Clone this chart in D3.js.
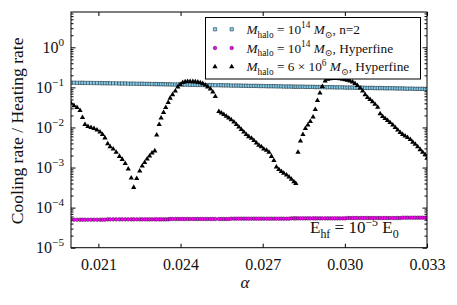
<!DOCTYPE html>
<html>
<head>
<meta charset="utf-8">
<script src="https://cdn.jsdelivr.net/npm/d3@7"></script>
<style>
body { margin: 0; background: #fff; }
svg { display: block; }
text { font-family: "Liberation Serif", "DejaVu Serif", serif; fill: #111; }
</style>
</head>
<body>
<svg id="chart" width="457" height="305"></svg>
<script>
// fine structure constant samples (shared by all three series)
var alpha = [
  0.02000,0.02011,0.02022,0.02033,0.02042,0.02051,0.02062,0.02073,0.02084,0.02095,
  0.02106,0.02115,0.02124,0.02134,0.02143,0.02154,0.02165,0.02177,0.02187,0.02198,
  0.02209,0.02220,0.02229,0.02240,0.02251,0.02260,0.02269,0.02278,0.02287,0.02296,
  0.02306,0.02313,0.02322,0.02329,0.02338,0.02346,0.02355,0.02362,0.02371,0.02381,
  0.02390,0.02399,0.02408,0.02417,0.02426,0.02435,0.02445,0.02454,0.02463,0.02472,
  0.02481,0.02490,0.02499,0.02509,0.02518,0.02527,0.02540,0.02549,0.02558,0.02567,
  0.02576,0.02585,0.02595,0.02604,0.02613,0.02622,0.02631,0.02640,0.02649,0.02659,
  0.02668,0.02677,0.02686,0.02695,0.02704,0.02714,0.02723,0.02732,0.02741,0.02750,
  0.02759,0.02768,0.02777,0.02787,0.02796,0.02805,0.02814,0.02821,0.02829,0.02838,
  0.02847,0.02856,0.02865,0.02874,0.02884,0.02892,0.02900,0.02909,0.02918,0.02928,
  0.02937,0.02946,0.02955,0.02964,0.02973,0.02982,0.02992,0.03001,0.03010,0.03019,
  0.03028,0.03037,0.03046,0.03056,0.03065,0.03074,0.03083,0.03092,0.03101,0.03110,
  0.03120,0.03129,0.03138,0.03147,0.03156,0.03165,0.03175,0.03184,0.03193,0.03202,
  0.03211,0.03220,0.03229,0.03239,0.03248,0.03257,0.03266,0.03275,0.03284,0.03293,
  0.03300
];

// M_halo = 1e14, n=2
var ratioN2 = [
  0.131,0.131,0.130,0.130,0.130,0.129,0.129,0.129,0.128,0.128,
  0.128,0.127,0.127,0.127,0.126,0.126,0.126,0.125,0.125,0.125,
  0.124,0.124,0.124,0.123,0.123,0.123,0.122,0.122,0.122,0.121,
  0.121,0.121,0.120,0.120,0.120,0.119,0.119,0.119,0.118,0.118,
  0.118,0.118,0.117,0.117,0.117,0.116,0.116,0.116,0.115,0.115,
  0.115,0.114,0.114,0.114,0.114,0.113,0.113,0.113,0.112,0.112,
  0.112,0.111,0.111,0.111,0.111,0.110,0.110,0.110,0.109,0.109,
  0.109,0.109,0.108,0.108,0.108,0.107,0.107,0.107,0.107,0.106,
  0.106,0.106,0.105,0.105,0.105,0.105,0.104,0.104,0.104,0.104,
  0.104,0.103,0.103,0.103,0.103,0.102,0.102,0.102,0.102,0.101,
  0.101,0.101,0.101,0.100,0.100,0.100,0.100,0.099,0.099,0.099,
  0.099,0.098,0.098,0.098,0.098,0.097,0.097,0.097,0.097,0.096,
  0.096,0.096,0.096,0.095,0.095,0.095,0.095,0.094,0.094,0.094,
  0.094,0.093,0.093,0.093,0.093,0.092,0.092,0.092,0.092,0.091,
  0.091
];

// M_halo = 1e14, hyperfine
var ratioHf = [
  5.0e-5,5.0e-5,5.0e-5,5.0e-5,5.0e-5,5.0e-5,5.0e-5,5.0e-5,5.0e-5,5.0e-5,
  5.0e-5,5.0e-5,5.0e-5,5.1e-5,5.1e-5,5.1e-5,5.1e-5,5.1e-5,5.1e-5,5.1e-5,
  5.1e-5,5.1e-5,5.1e-5,5.1e-5,5.1e-5,5.1e-5,5.1e-5,5.1e-5,5.1e-5,5.1e-5,
  5.1e-5,5.1e-5,5.1e-5,5.1e-5,5.1e-5,5.1e-5,5.1e-5,5.2e-5,5.2e-5,5.2e-5,
  5.2e-5,5.2e-5,5.2e-5,5.2e-5,5.2e-5,5.2e-5,5.2e-5,5.2e-5,5.2e-5,5.2e-5,
  5.2e-5,5.2e-5,5.2e-5,5.2e-5,5.2e-5,5.2e-5,5.2e-5,5.2e-5,5.2e-5,5.2e-5,
  5.2e-5,5.3e-5,5.3e-5,5.3e-5,5.3e-5,5.3e-5,5.3e-5,5.3e-5,5.3e-5,5.3e-5,
  5.3e-5,5.3e-5,5.3e-5,5.3e-5,5.3e-5,5.3e-5,5.3e-5,5.3e-5,5.3e-5,5.3e-5,
  5.3e-5,5.3e-5,5.3e-5,5.3e-5,5.3e-5,5.4e-5,5.4e-5,5.4e-5,5.4e-5,5.4e-5,
  5.4e-5,5.4e-5,5.4e-5,5.4e-5,5.4e-5,5.4e-5,5.4e-5,5.4e-5,5.4e-5,5.4e-5,
  5.4e-5,5.4e-5,5.4e-5,5.4e-5,5.4e-5,5.4e-5,5.4e-5,5.4e-5,5.5e-5,5.5e-5,
  5.5e-5,5.5e-5,5.5e-5,5.5e-5,5.5e-5,5.5e-5,5.5e-5,5.5e-5,5.5e-5,5.5e-5,
  5.5e-5,5.5e-5,5.5e-5,5.5e-5,5.5e-5,5.5e-5,5.5e-5,5.5e-5,5.5e-5,5.5e-5,
  5.6e-5,5.6e-5,5.6e-5,5.6e-5,5.6e-5,5.6e-5,5.6e-5,5.6e-5,5.6e-5,5.6e-5,
  5.6e-5
];

// M_halo = 6e6, hyperfine
var ratioSmallHf = [
  0.040,0.035,0.0315,0.0265,0.0177,0.0119,0.0106,0.0100,0.0094,0.0086,
  0.0077,0.0067,0.0055,0.0039,0.0033,0.0029,0.0024,0.0019,0.0016,0.00126,
  0.00092,0.00055,0.00032,0.00053,0.00082,0.00109,0.00134,0.00163,0.00194,0.0023,
  0.0026,0.0065,0.0119,0.0172,0.0236,0.0315,0.042,0.054,0.066,0.081,
  0.102,0.118,0.132,0.138,0.140,0.140,0.139,0.138,0.135,0.130,
  0.124,0.115,0.103,0.091,0.077,0.059,0.025,0.023,0.021,0.019,
  0.0172,0.0155,0.0137,0.0119,0.0103,0.0089,0.0077,0.0067,0.0059,0.0054,
  0.0047,0.0041,0.0036,0.0033,0.0029,0.0027,0.0024,0.0019,0.0015,0.00103,
  0.00089,0.00080,0.00072,0.00065,0.00058,0.00051,0.00044,0.00040,0.0024,0.0046,
  0.0067,0.0094,0.0115,0.0141,0.0182,0.028,0.047,0.072,0.105,0.144,
  0.159,0.164,0.167,0.167,0.167,0.164,0.160,0.156,0.150,0.144,
  0.136,0.125,0.111,0.096,0.081,0.066,0.056,0.050,0.044,0.038,
  0.032,0.022,0.0188,0.0168,0.0149,0.0133,0.0115,0.0100,0.0086,0.0075,
  0.0067,0.0061,0.0056,0.0050,0.0043,0.0038,0.0033,0.0028,0.0024,0.0021,
  0.0017
];

var xTicks = [0.021, 0.024, 0.027, 0.030, 0.033];
var yExponents = [0, -1, -2, -3, -4, -5];

var plotL = 71, plotR = 427, plotT = 12, plotB = 247.7;

var svg = d3.select('#chart');

var x = d3.scaleLinear().domain([0.020, 0.033]).range([plotL, plotR]);
var y = d3.scaleLog().domain([1e-5, 7.6]).range([plotB, plotT]);

// minor log ticks
var minors = [];
yExponents.forEach(function(e) {
  for (var k = 2; k <= 9; k++) {
    var v = k * Math.pow(10, e);
    if (v < 7.6) minors.push(v);
  }
});
var majors = yExponents.map(function(e) { return Math.pow(10, e); });

svg.append('defs').append('clipPath').attr('id', 'plotclip')
  .append('rect').attr('x', plotL).attr('y', plotT)
  .attr('width', plotR - plotL).attr('height', plotB - plotT);

// helper for text with sub/superscripts
function richText(g, px, py, parts, size, anchor) {
  var t = g.append('text').attr('x', px).attr('y', py)
    .style('font-size', size + 'px')
    .attr('text-anchor', anchor || 'start');
  var shift = 0;
  parts.forEach(function(p) {
    var target = p.sub ? size * 0.28 : (p.sup ? -size * 0.42 : 0);
    var sp = t.append('tspan').attr('dy', target - shift).text(p.t);
    if (p.sub || p.sup) sp.style('font-size', (size * 0.7) + 'px');
    if (p.it) sp.style('font-style', 'italic');
    shift = target;
  });
  return t;
}

// annotation (drawn under the markers)
richText(svg, 310, 233, [
  {t: 'E'}, {t: 'hf', sub: true}, {t: ' = 10'}, {t: '\u22125', sup: true},
  {t: ' E'}, {t: '0', sub: true}
], 17);

// axes ticks (inward, on all sides)
function styleAxis(g) {
  g.select('.domain').remove();
  g.selectAll('line').attr('stroke', '#000').attr('stroke-width', 1);
}

svg.append('g').attr('transform', 'translate(0,' + plotB + ')')
  .call(d3.axisBottom(x).tickValues(xTicks).tickSize(-4).tickPadding(11)
    .tickFormat(d3.format('.3f')))
  .call(styleAxis)
  .selectAll('text').style('font-size', '16px').attr('fill', '#111')
  .style('font-family', '"Liberation Serif", serif');

svg.append('g').attr('transform', 'translate(0,' + plotT + ')')
  .call(d3.axisTop(x).tickValues(xTicks).tickSize(-4).tickFormat(''))
  .call(styleAxis);

svg.append('g').attr('transform', 'translate(' + plotL + ',0)')
  .call(d3.axisLeft(y).tickValues(majors).tickSize(-4.5).tickFormat(''))
  .call(styleAxis);
svg.append('g').attr('transform', 'translate(' + plotL + ',0)')
  .call(d3.axisLeft(y).tickValues(minors).tickSize(-2.5).tickFormat(''))
  .call(styleAxis);
svg.append('g').attr('transform', 'translate(' + plotR + ',0)')
  .call(d3.axisRight(y).tickValues(majors).tickSize(-4.5).tickFormat(''))
  .call(styleAxis);
svg.append('g').attr('transform', 'translate(' + plotR + ',0)')
  .call(d3.axisRight(y).tickValues(minors).tickSize(-2.5).tickFormat(''))
  .call(styleAxis);

// y tick labels 10^e
var ylab = svg.append('g');
yExponents.forEach(function(e) {
  richText(ylab, plotL - 7, y(Math.pow(10, e)) + 5.5, [
    {t: '10'}, {t: (e < 0 ? '\u2212' : '') + Math.abs(e), sup: true}
  ], 16, 'end');
});

// markers
var plot = svg.append('g').attr('clip-path', 'url(#plotclip)');
var sq = d3.symbol().type(d3.symbolSquare).size(11);
var ci = d3.symbol().type(d3.symbolCircle).size(10);
var tri = d3.symbol().type(d3.symbolTriangle).size(12);

plot.selectAll('path.n2').data(alpha).enter().append('path')
  .attr('class', 'n2').attr('d', sq)
  .attr('transform', function(d, i) { return 'translate(' + x(d) + ',' + y(ratioN2[i]) + ')'; })
  .attr('fill', '#87ceeb').attr('stroke', '#10202a').attr('stroke-width', 0.5);

plot.selectAll('path.hf').data(alpha).enter().append('path')
  .attr('class', 'hf').attr('d', ci)
  .attr('transform', function(d, i) { return 'translate(' + x(d) + ',' + y(ratioHf[i]) + ')'; })
  .attr('fill', '#ff00ff').attr('stroke', '#300030').attr('stroke-width', 0.5);

plot.selectAll('path.sm').data(alpha).enter().append('path')
  .attr('class', 'sm').attr('d', tri)
  .attr('transform', function(d, i) { return 'translate(' + x(d) + ',' + y(ratioSmallHf[i]) + ')'; })
  .attr('fill', '#000');

// frame
svg.append('rect').attr('x', plotL).attr('y', plotT)
  .attr('width', plotR - plotL).attr('height', plotB - plotT)
  .attr('fill', 'none').attr('stroke', '#000').attr('stroke-width', 1);

// axis titles
svg.append('text').attr('x', (plotL + plotR) / 2 - 4).attr('y', 288)
  .attr('text-anchor', 'middle').style('font-size', '17px').style('font-style', 'italic')
  .text('\u03b1');
svg.append('text').attr('transform', 'translate(23,' + ((plotT + plotB) / 2 + 1) + ') rotate(-90)')
  .attr('text-anchor', 'middle').style('font-size', '17.5px')
  .text('Cooling rate / Heating rate');

// legend
var legend = svg.append('g');
legend.append('rect').attr('x', 205.5).attr('y', 17.5).attr('width', 215).attr('height', 61.5)
  .attr('fill', '#fff').attr('stroke', '#000').attr('stroke-width', 1);

var legendRows = [
  {sym: sq, fill: '#87ceeb', stroke: '#10202a', parts: [
    {t: 'M', it: true}, {t: 'halo', sub: true}, {t: ' = 10'}, {t: '14', sup: true},
    {t: ' '}, {t: 'M', it: true}, {t: '\u2299', sub: true}, {t: ', n=2'}]},
  {sym: ci, fill: '#ff00ff', stroke: '#300030', parts: [
    {t: 'M', it: true}, {t: 'halo', sub: true}, {t: ' = 10'}, {t: '14', sup: true},
    {t: ' '}, {t: 'M', it: true}, {t: '\u2299', sub: true}, {t: ', Hyperfine'}]},
  {sym: tri, fill: '#000', stroke: 'none', parts: [
    {t: 'M', it: true}, {t: 'halo', sub: true}, {t: ' = 6 \u00d7 10'}, {t: '6', sup: true},
    {t: ' '}, {t: 'M', it: true}, {t: '\u2299', sub: true}, {t: ', Hyperfine'}]}
];
var rowY = [29.3, 48, 66.7];
legendRows.forEach(function(r, i) {
  [215, 231.7].forEach(function(mx) {
    legend.append('path').attr('d', r.sym)
      .attr('transform', 'translate(' + mx + ',' + rowY[i] + ')')
      .attr('fill', r.fill).attr('stroke', r.stroke).attr('stroke-width', 0.5);
  });
  richText(legend, 246.5, rowY[i] + 4.5, r.parts, 13.3);
});
</script>
</body>
</html>
